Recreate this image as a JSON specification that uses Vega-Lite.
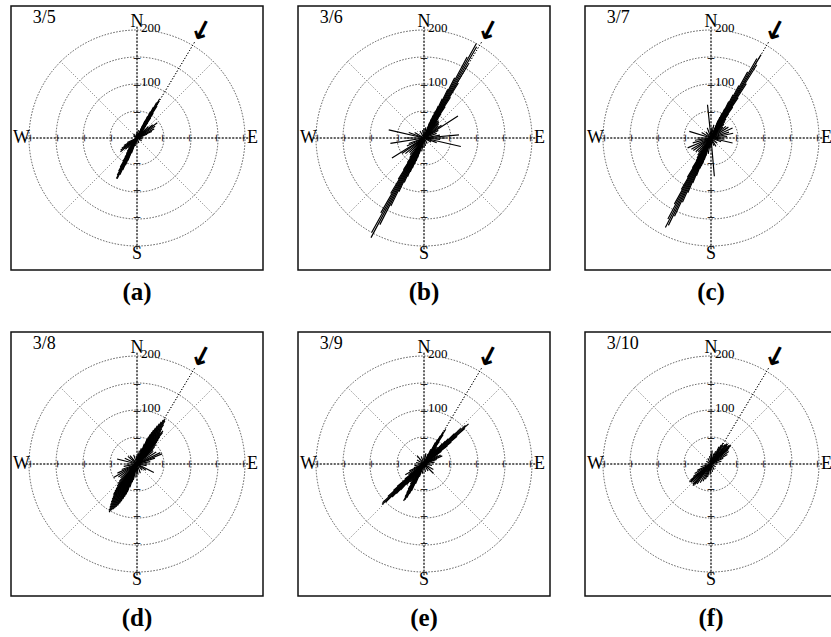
{
  "$schema": "https://vega.github.io/schema/vega-lite/v6.json",
  "padding": {"left": 10, "top": 5, "right": 5, "bottom": 5},
  "background": "white",
  "datasets": {
    "frame": [{"f": 1}],
    "rings": [{"r": 50}, {"r": 100}, {"r": 150}, {"r": 200}],
    "axes": [{"a": 0}, {"a": 90}, {"a": 180}, {"a": 270}],
    "diag": [{"a": 45}, {"a": 135}, {"a": 225}, {"a": 315}],
    "ticks": [
      {"a": 0, "r": 50}, {"a": 0, "r": 100}, {"a": 0, "r": 150},
      {"a": 90, "r": 50}, {"a": 90, "r": 100}, {"a": 90, "r": 150}, {"a": 90, "r": 200},
      {"a": 180, "r": 50}, {"a": 180, "r": 100}, {"a": 180, "r": 150},
      {"a": 270, "r": 50}, {"a": 270, "r": 100}, {"a": 270, "r": 150}, {"a": 270, "r": 200}
    ],
    "compass": [{"a": 0, "t": "N"}, {"a": 90, "t": "E"}, {"a": 180, "t": "S"}, {"a": 270, "t": "W"}],
    "scalelab": [{"v": 100}, {"v": 200}],
    "wind": [{"a": 31}],
    "dates": [{"a": "3/5", "b": "3/6", "c": "3/7", "d": "3/8", "e": "3/9", "f": "3/10"}],
    "caps": [{"a": "(a)", "b": "(b)", "c": "(c)", "d": "(d)", "e": "(e)", "f": "(f)"}],
    "rose": [
      {"p":"a","dir":24,"r":25},{"p":"a","dir":25,"r":35},{"p":"a","dir":26,"r":45},{"p":"a","dir":27,"r":55},{"p":"a","dir":28,"r":65},{"p":"a","dir":29,"r":75},{"p":"a","dir":30,"r":84},{"p":"a","dir":31,"r":80},{"p":"a","dir":32,"r":70},{"p":"a","dir":33,"r":55},{"p":"a","dir":34,"r":45},{"p":"a","dir":35,"r":35},{"p":"a","dir":36,"r":28},{"p":"a","dir":38,"r":22},{"p":"a","dir":40,"r":18},{"p":"a","dir":45,"r":30},{"p":"a","dir":50,"r":38},{"p":"a","dir":53,"r":47},{"p":"a","dir":57,"r":40},{"p":"a","dir":62,"r":36},{"p":"a","dir":66,"r":30},{"p":"a","dir":70,"r":20},
      {"p":"a","dir":200,"r":30},{"p":"a","dir":202,"r":45},{"p":"a","dir":203,"r":55},{"p":"a","dir":204,"r":65},{"p":"a","dir":205,"r":75},{"p":"a","dir":206,"r":84},{"p":"a","dir":207,"r":84},{"p":"a","dir":208,"r":78},{"p":"a","dir":209,"r":70},{"p":"a","dir":210,"r":62},{"p":"a","dir":211,"r":50},{"p":"a","dir":212,"r":42},{"p":"a","dir":214,"r":35},{"p":"a","dir":216,"r":30},{"p":"a","dir":220,"r":25},{"p":"a","dir":226,"r":30},{"p":"a","dir":230,"r":40},{"p":"a","dir":233,"r":38},{"p":"a","dir":236,"r":34},{"p":"a","dir":240,"r":28},{"p":"a","dir":245,"r":20},
      {"p":"a","dir":0,"r":12},{"p":"a","dir":10,"r":15},{"p":"a","dir":80,"r":12},{"p":"a","dir":100,"r":10},{"p":"a","dir":120,"r":10},{"p":"a","dir":160,"r":10},{"p":"a","dir":180,"r":8},{"p":"a","dir":190,"r":15},{"p":"a","dir":300,"r":8},{"p":"a","dir":320,"r":10},{"p":"a","dir":350,"r":8},

      {"p":"b","dir":20,"r":30},{"p":"b","dir":21,"r":38},{"p":"b","dir":22,"r":45},{"p":"b","dir":23,"r":55},{"p":"b","dir":24,"r":65},{"p":"b","dir":25,"r":80},{"p":"b","dir":26,"r":100},{"p":"b","dir":27,"r":125},{"p":"b","dir":28,"r":170},{"p":"b","dir":29,"r":200},{"p":"b","dir":30,"r":195},{"p":"b","dir":31,"r":160},{"p":"b","dir":32,"r":120},{"p":"b","dir":33,"r":90},{"p":"b","dir":34,"r":70},{"p":"b","dir":35,"r":55},{"p":"b","dir":36,"r":45},{"p":"b","dir":38,"r":40},{"p":"b","dir":40,"r":42},{"p":"b","dir":43,"r":40},{"p":"b","dir":46,"r":38},{"p":"b","dir":50,"r":35},{"p":"b","dir":54,"r":40},{"p":"b","dir":57,"r":75},{"p":"b","dir":62,"r":30},{"p":"b","dir":70,"r":25},{"p":"b","dir":80,"r":30},{"p":"b","dir":85,"r":65},{"p":"b","dir":90,"r":40},{"p":"b","dir":95,"r":30},{"p":"b","dir":103,"r":70},{"p":"b","dir":110,"r":25},{"p":"b","dir":120,"r":15},{"p":"b","dir":150,"r":12},{"p":"b","dir":170,"r":15},{"p":"b","dir":180,"r":18},{"p":"b","dir":190,"r":25},
      {"p":"b","dir":197,"r":30},{"p":"b","dir":198,"r":38},{"p":"b","dir":199,"r":45},{"p":"b","dir":200,"r":52},{"p":"b","dir":201,"r":60},{"p":"b","dir":202,"r":68},{"p":"b","dir":203,"r":78},{"p":"b","dir":204,"r":90},{"p":"b","dir":205,"r":110},{"p":"b","dir":206,"r":140},{"p":"b","dir":207,"r":180},{"p":"b","dir":208,"r":209},{"p":"b","dir":209,"r":200},{"p":"b","dir":210,"r":160},{"p":"b","dir":211,"r":120},{"p":"b","dir":212,"r":90},{"p":"b","dir":213,"r":70},{"p":"b","dir":214,"r":55},{"p":"b","dir":216,"r":45},{"p":"b","dir":220,"r":40},{"p":"b","dir":225,"r":38},{"p":"b","dir":230,"r":45},{"p":"b","dir":235,"r":50},{"p":"b","dir":238,"r":70},{"p":"b","dir":245,"r":35},{"p":"b","dir":250,"r":30},{"p":"b","dir":261,"r":63},{"p":"b","dir":270,"r":35},{"p":"b","dir":283,"r":67},{"p":"b","dir":290,"r":30},{"p":"b","dir":300,"r":20},{"p":"b","dir":330,"r":15},{"p":"b","dir":350,"r":15},{"p":"b","dir":0,"r":18},{"p":"b","dir":10,"r":20},

      {"p":"c","dir":22,"r":35},{"p":"c","dir":23,"r":42},{"p":"c","dir":24,"r":50},{"p":"c","dir":25,"r":60},{"p":"c","dir":26,"r":75},{"p":"c","dir":27,"r":90},{"p":"c","dir":28,"r":110},{"p":"c","dir":29,"r":140},{"p":"c","dir":30,"r":170},{"p":"c","dir":31,"r":180},{"p":"c","dir":32,"r":160},{"p":"c","dir":33,"r":120},{"p":"c","dir":34,"r":90},{"p":"c","dir":35,"r":70},{"p":"c","dir":36,"r":55},{"p":"c","dir":38,"r":45},{"p":"c","dir":40,"r":40},{"p":"c","dir":43,"r":35},{"p":"c","dir":47,"r":30},{"p":"c","dir":52,"r":35},{"p":"c","dir":58,"r":38},{"p":"c","dir":65,"r":44},{"p":"c","dir":72,"r":35},{"p":"c","dir":78,"r":42},{"p":"c","dir":85,"r":30},{"p":"c","dir":95,"r":25},{"p":"c","dir":103,"r":41},{"p":"c","dir":110,"r":20},{"p":"c","dir":130,"r":15},{"p":"c","dir":150,"r":18},{"p":"c","dir":160,"r":15},{"p":"c","dir":175,"r":71},{"p":"c","dir":185,"r":20},{"p":"c","dir":190,"r":30},
      {"p":"c","dir":196,"r":35},{"p":"c","dir":197,"r":42},{"p":"c","dir":198,"r":50},{"p":"c","dir":199,"r":55},{"p":"c","dir":200,"r":60},{"p":"c","dir":201,"r":75},{"p":"c","dir":202,"r":90},{"p":"c","dir":203,"r":110},{"p":"c","dir":204,"r":130},{"p":"c","dir":205,"r":160},{"p":"c","dir":206,"r":180},{"p":"c","dir":207,"r":186},{"p":"c","dir":208,"r":170},{"p":"c","dir":209,"r":140},{"p":"c","dir":210,"r":110},{"p":"c","dir":211,"r":85},{"p":"c","dir":212,"r":65},{"p":"c","dir":213,"r":50},{"p":"c","dir":215,"r":45},{"p":"c","dir":218,"r":40},{"p":"c","dir":222,"r":35},{"p":"c","dir":228,"r":38},{"p":"c","dir":235,"r":40},{"p":"c","dir":240,"r":42},{"p":"c","dir":247,"r":47},{"p":"c","dir":255,"r":35},{"p":"c","dir":262,"r":30},{"p":"c","dir":270,"r":25},{"p":"c","dir":287,"r":42},{"p":"c","dir":300,"r":20},{"p":"c","dir":320,"r":15},{"p":"c","dir":340,"r":20},{"p":"c","dir":354,"r":62},{"p":"c","dir":5,"r":20},{"p":"c","dir":12,"r":25},

      {"p":"d","dir":18,"r":30},{"p":"d","dir":20,"r":40},{"p":"d","dir":22,"r":50},{"p":"d","dir":23,"r":55},{"p":"d","dir":24,"r":60},{"p":"d","dir":25,"r":65},{"p":"d","dir":26,"r":70},{"p":"d","dir":27,"r":75},{"p":"d","dir":28,"r":80},{"p":"d","dir":29,"r":85},{"p":"d","dir":30,"r":90},{"p":"d","dir":31,"r":95},{"p":"d","dir":32,"r":98},{"p":"d","dir":33,"r":95},{"p":"d","dir":34,"r":88},{"p":"d","dir":35,"r":80},{"p":"d","dir":36,"r":75},{"p":"d","dir":37,"r":72},{"p":"d","dir":38,"r":78},{"p":"d","dir":39,"r":75},{"p":"d","dir":40,"r":65},{"p":"d","dir":41,"r":60},{"p":"d","dir":42,"r":55},{"p":"d","dir":44,"r":50},{"p":"d","dir":46,"r":45},{"p":"d","dir":48,"r":40},{"p":"d","dir":52,"r":38},{"p":"d","dir":58,"r":42},{"p":"d","dir":64,"r":48},{"p":"d","dir":68,"r":50},{"p":"d","dir":72,"r":35},{"p":"d","dir":80,"r":25},{"p":"d","dir":90,"r":20},{"p":"d","dir":100,"r":18},{"p":"d","dir":117,"r":35},{"p":"d","dir":125,"r":20},{"p":"d","dir":140,"r":15},{"p":"d","dir":160,"r":18},{"p":"d","dir":175,"r":20},{"p":"d","dir":185,"r":25},
      {"p":"d","dir":193,"r":30},{"p":"d","dir":195,"r":35},{"p":"d","dir":197,"r":45},{"p":"d","dir":199,"r":55},{"p":"d","dir":200,"r":60},{"p":"d","dir":201,"r":65},{"p":"d","dir":202,"r":70},{"p":"d","dir":203,"r":75},{"p":"d","dir":204,"r":80},{"p":"d","dir":205,"r":85},{"p":"d","dir":206,"r":88},{"p":"d","dir":207,"r":92},{"p":"d","dir":208,"r":95},{"p":"d","dir":209,"r":98},{"p":"d","dir":210,"r":103},{"p":"d","dir":211,"r":100},{"p":"d","dir":212,"r":95},{"p":"d","dir":213,"r":90},{"p":"d","dir":214,"r":85},{"p":"d","dir":215,"r":80},{"p":"d","dir":216,"r":75},{"p":"d","dir":217,"r":72},{"p":"d","dir":218,"r":70},{"p":"d","dir":219,"r":65},{"p":"d","dir":220,"r":60},{"p":"d","dir":222,"r":55},{"p":"d","dir":224,"r":50},{"p":"d","dir":226,"r":45},{"p":"d","dir":230,"r":40},{"p":"d","dir":235,"r":42},{"p":"d","dir":240,"r":50},{"p":"d","dir":245,"r":40},{"p":"d","dir":250,"r":30},{"p":"d","dir":260,"r":25},{"p":"d","dir":270,"r":20},{"p":"d","dir":284,"r":38},{"p":"d","dir":295,"r":25},{"p":"d","dir":310,"r":22},{"p":"d","dir":320,"r":20},{"p":"d","dir":340,"r":18},{"p":"d","dir":355,"r":15},{"p":"d","dir":5,"r":20},{"p":"d","dir":10,"r":25},{"p":"d","dir":15,"r":30},

      {"p":"e","dir":22,"r":20},{"p":"e","dir":25,"r":30},{"p":"e","dir":28,"r":45},{"p":"e","dir":29,"r":52},{"p":"e","dir":30,"r":60},{"p":"e","dir":31,"r":70},{"p":"e","dir":32,"r":76},{"p":"e","dir":33,"r":65},{"p":"e","dir":34,"r":50},{"p":"e","dir":36,"r":40},{"p":"e","dir":38,"r":35},{"p":"e","dir":40,"r":40},{"p":"e","dir":42,"r":50},{"p":"e","dir":43,"r":58},{"p":"e","dir":44,"r":65},{"p":"e","dir":45,"r":80},{"p":"e","dir":46,"r":95},{"p":"e","dir":47,"r":105},{"p":"e","dir":48,"r":111},{"p":"e","dir":49,"r":100},{"p":"e","dir":50,"r":80},{"p":"e","dir":51,"r":65},{"p":"e","dir":52,"r":55},{"p":"e","dir":54,"r":40},{"p":"e","dir":58,"r":30},{"p":"e","dir":62,"r":35},{"p":"e","dir":66,"r":37},{"p":"e","dir":70,"r":25},{"p":"e","dir":80,"r":20},{"p":"e","dir":100,"r":15},{"p":"e","dir":120,"r":20},{"p":"e","dir":135,"r":25},{"p":"e","dir":150,"r":15},{"p":"e","dir":170,"r":15},{"p":"e","dir":190,"r":18},
      {"p":"e","dir":200,"r":25},{"p":"e","dir":203,"r":40},{"p":"e","dir":205,"r":55},{"p":"e","dir":206,"r":62},{"p":"e","dir":207,"r":70},{"p":"e","dir":208,"r":75},{"p":"e","dir":209,"r":78},{"p":"e","dir":210,"r":70},{"p":"e","dir":211,"r":62},{"p":"e","dir":212,"r":55},{"p":"e","dir":214,"r":45},{"p":"e","dir":216,"r":40},{"p":"e","dir":218,"r":42},{"p":"e","dir":220,"r":50},{"p":"e","dir":222,"r":65},{"p":"e","dir":223,"r":75},{"p":"e","dir":224,"r":85},{"p":"e","dir":225,"r":100},{"p":"e","dir":226,"r":108},{"p":"e","dir":227,"r":105},{"p":"e","dir":228,"r":90},{"p":"e","dir":229,"r":75},{"p":"e","dir":230,"r":65},{"p":"e","dir":232,"r":45},{"p":"e","dir":235,"r":35},{"p":"e","dir":240,"r":40},{"p":"e","dir":245,"r":30},{"p":"e","dir":250,"r":20},{"p":"e","dir":260,"r":18},{"p":"e","dir":280,"r":15},{"p":"e","dir":300,"r":15},{"p":"e","dir":320,"r":20},{"p":"e","dir":340,"r":15},{"p":"e","dir":0,"r":15},{"p":"e","dir":10,"r":20},

      {"p":"f","dir":15,"r":20},{"p":"f","dir":20,"r":25},{"p":"f","dir":25,"r":35},{"p":"f","dir":28,"r":40},{"p":"f","dir":30,"r":45},{"p":"f","dir":33,"r":42},{"p":"f","dir":36,"r":45},{"p":"f","dir":38,"r":48},{"p":"f","dir":40,"r":48},{"p":"f","dir":42,"r":45},{"p":"f","dir":44,"r":48},{"p":"f","dir":46,"r":50},{"p":"f","dir":47,"r":50},{"p":"f","dir":48,"r":45},{"p":"f","dir":50,"r":42},{"p":"f","dir":55,"r":40},{"p":"f","dir":60,"r":35},{"p":"f","dir":65,"r":25},{"p":"f","dir":75,"r":20},{"p":"f","dir":90,"r":12},{"p":"f","dir":120,"r":10},{"p":"f","dir":150,"r":12},{"p":"f","dir":170,"r":15},{"p":"f","dir":185,"r":20},{"p":"f","dir":195,"r":25},{"p":"f","dir":200,"r":30},{"p":"f","dir":205,"r":35},{"p":"f","dir":210,"r":40},{"p":"f","dir":215,"r":45},{"p":"f","dir":218,"r":48},{"p":"f","dir":220,"r":52},{"p":"f","dir":222,"r":50},{"p":"f","dir":225,"r":48},{"p":"f","dir":228,"r":50},{"p":"f","dir":230,"r":52},{"p":"f","dir":232,"r":48},{"p":"f","dir":235,"r":40},{"p":"f","dir":240,"r":35},{"p":"f","dir":245,"r":28},{"p":"f","dir":255,"r":20},{"p":"f","dir":270,"r":12},{"p":"f","dir":300,"r":10},{"p":"f","dir":330,"r":12},{"p":"f","dir":350,"r":15},{"p":"f","dir":0,"r":20},{"p":"f","dir":5,"r":25}
    ]
  },
  "repeat": ["a", "b", "c", "d", "e", "f"],
  "columns": 3,
  "spacing": {"row": 62, "column": 35},
  "bounds": "flush",
  "spec": {
    "width": 252,
    "height": 264,
    "layer": [
      {
        "data": {"name": "frame"},
        "mark": {"type": "rect", "fill": null, "stroke": "#111", "strokeWidth": 1.5},
        "encoding": {}
      },
      {
        "data": {"name": "rings"},
        "mark": {"type": "arc", "theta": 0, "theta2": 6.2832, "filled": false, "stroke": "#444", "strokeWidth": 0.9, "strokeDash": [1.5, 1.5]},
        "encoding": {
          "radius": {"field": "r", "type": "quantitative", "stack": null, "scale": {"type": "linear", "domain": [0, 200], "range": [0, 108], "zero": true, "nice": false}}
        }
      },
      {
        "data": {"name": "diag"},
        "mark": {"type": "arc", "filled": false, "stroke": "#888", "strokeWidth": 0.8, "strokeDash": [1, 2]},
        "encoding": {
          "theta": {"field": "a", "type": "quantitative", "stack": null, "scale": {"domain": [0, 360], "range": [0, 6.283185307]}},
          "theta2": {"field": "a"},
          "radius": {"datum": 200.9, "type": "quantitative", "scale": {"type": "linear", "domain": [0, 200], "range": [0, 108], "zero": true, "nice": false}}
        }
      },
      {
        "data": {"name": "axes"},
        "mark": {"type": "arc", "filled": false, "stroke": "#222", "strokeWidth": 0.9, "strokeDash": [2, 1.5]},
        "encoding": {
          "theta": {"field": "a", "type": "quantitative", "stack": null, "scale": {"domain": [0, 360], "range": [0, 6.283185307]}},
          "theta2": {"field": "a"},
          "radius": {"datum": 206, "type": "quantitative", "scale": {"type": "linear", "domain": [0, 200], "range": [0, 108], "zero": true, "nice": false}}
        }
      },
      {
        "data": {"name": "wind"},
        "mark": {"type": "arc", "filled": false, "stroke": "#111", "strokeWidth": 1, "strokeDash": [1, 2]},
        "encoding": {
          "theta": {"field": "a", "type": "quantitative", "stack": null, "scale": {"domain": [0, 360], "range": [0, 6.283185307]}},
          "theta2": {"field": "a"},
          "radius": {"datum": 206.5, "type": "quantitative", "scale": {"type": "linear", "domain": [0, 200], "range": [0, 108], "zero": true, "nice": false}}
        }
      },
      {
        "data": {"name": "rose"},
        "transform": [{"pivot": "p", "value": "r", "groupby": ["dir"]}],
        "mark": {"type": "arc", "filled": false, "stroke": "#000", "strokeWidth": 1.2},
        "encoding": {
          "theta": {"field": "dir", "type": "quantitative", "stack": null, "scale": {"domain": [0, 360], "range": [0, 6.283185307]}},
          "theta2": {"field": "dir"},
          "radius": {"field": {"repeat": "repeat"}, "type": "quantitative", "stack": null, "scale": {"type": "linear", "domain": [0, 200], "range": [0, 108], "zero": true, "nice": false}}
        }
      },
      {
        "data": {"name": "ticks"},
        "mark": {"type": "text", "text": "–", "font": "Liberation Serif", "fontSize": 13, "fontWeight": "bold", "align": "center", "baseline": "middle", "color": "#111"},
        "encoding": {
          "theta": {"field": "a", "type": "quantitative", "stack": null, "scale": {"domain": [0, 360], "range": [0, 6.283185307]}},
          "radius": {"field": "r", "type": "quantitative", "stack": null, "scale": {"type": "linear", "domain": [0, 200], "range": [0, 108], "zero": true, "nice": false}},
          "angle": {"field": "a", "type": "quantitative", "scale": null}
        }
      },
      {
        "data": {"name": "compass"},
        "mark": {"type": "text", "font": "Liberation Serif", "fontSize": 18, "align": "center", "baseline": "middle", "color": "#000"},
        "encoding": {
          "text": {"field": "t"},
          "theta": {"field": "a", "type": "quantitative", "stack": null, "scale": {"domain": [0, 360], "range": [0, 6.283185307]}},
          "radius": {"datum": 214, "type": "quantitative", "scale": {"type": "linear", "domain": [0, 200], "range": [0, 108], "zero": true, "nice": false}}
        }
      },
      {
        "data": {"name": "scalelab"},
        "mark": {"type": "text", "font": "Liberation Serif", "fontSize": 13, "align": "left", "baseline": "middle", "dx": 4, "dy": -2, "color": "#000"},
        "encoding": {
          "text": {"field": "v"},
          "theta": {"datum": 0, "type": "quantitative", "scale": {"domain": [0, 360], "range": [0, 6.283185307]}},
          "radius": {"field": "v", "type": "quantitative", "stack": null, "scale": {"type": "linear", "domain": [0, 200], "range": [0, 108], "zero": true, "nice": false}}
        }
      },
      {
        "data": {"name": "wind"},
        "mark": {"type": "text", "text": "↓", "font": "DejaVu Sans", "fontSize": 27, "fontWeight": "bold", "angle": 27, "align": "center", "baseline": "middle", "color": "#000"},
        "encoding": {
          "theta": {"field": "a", "type": "quantitative", "stack": null, "scale": {"domain": [0, 360], "range": [0, 6.283185307]}},
          "radius": {"datum": 230, "type": "quantitative", "scale": {"type": "linear", "domain": [0, 200], "range": [0, 108], "zero": true, "nice": false}}
        }
      },
      {
        "data": {"name": "dates"},
        "mark": {"type": "text", "font": "Liberation Serif", "fontSize": 18, "align": "left", "baseline": "middle", "color": "#000"},
        "encoding": {
          "text": {"field": {"repeat": "repeat"}},
          "theta": {"datum": 319, "type": "quantitative", "scale": {"domain": [0, 360], "range": [0, 6.283185307]}},
          "radius": {"datum": 294, "type": "quantitative", "scale": {"type": "linear", "domain": [0, 200], "range": [0, 108], "zero": true, "nice": false}}
        }
      },
      {
        "data": {"name": "caps"},
        "mark": {"type": "text", "font": "Liberation Serif", "fontSize": 25, "fontWeight": "bold", "align": "center", "baseline": "middle", "color": "#000"},
        "encoding": {
          "text": {"field": {"repeat": "repeat"}},
          "theta": {"datum": 180, "type": "quantitative", "scale": {"domain": [0, 360], "range": [0, 6.283185307]}},
          "radius": {"datum": 286, "type": "quantitative", "scale": {"type": "linear", "domain": [0, 200], "range": [0, 108], "zero": true, "nice": false}}
        }
      }
    ]
  },
  "config": {
    "view": {"stroke": "#111", "strokeWidth": 1.5},
    "text": {"font": "Liberation Serif"}
  }
}
